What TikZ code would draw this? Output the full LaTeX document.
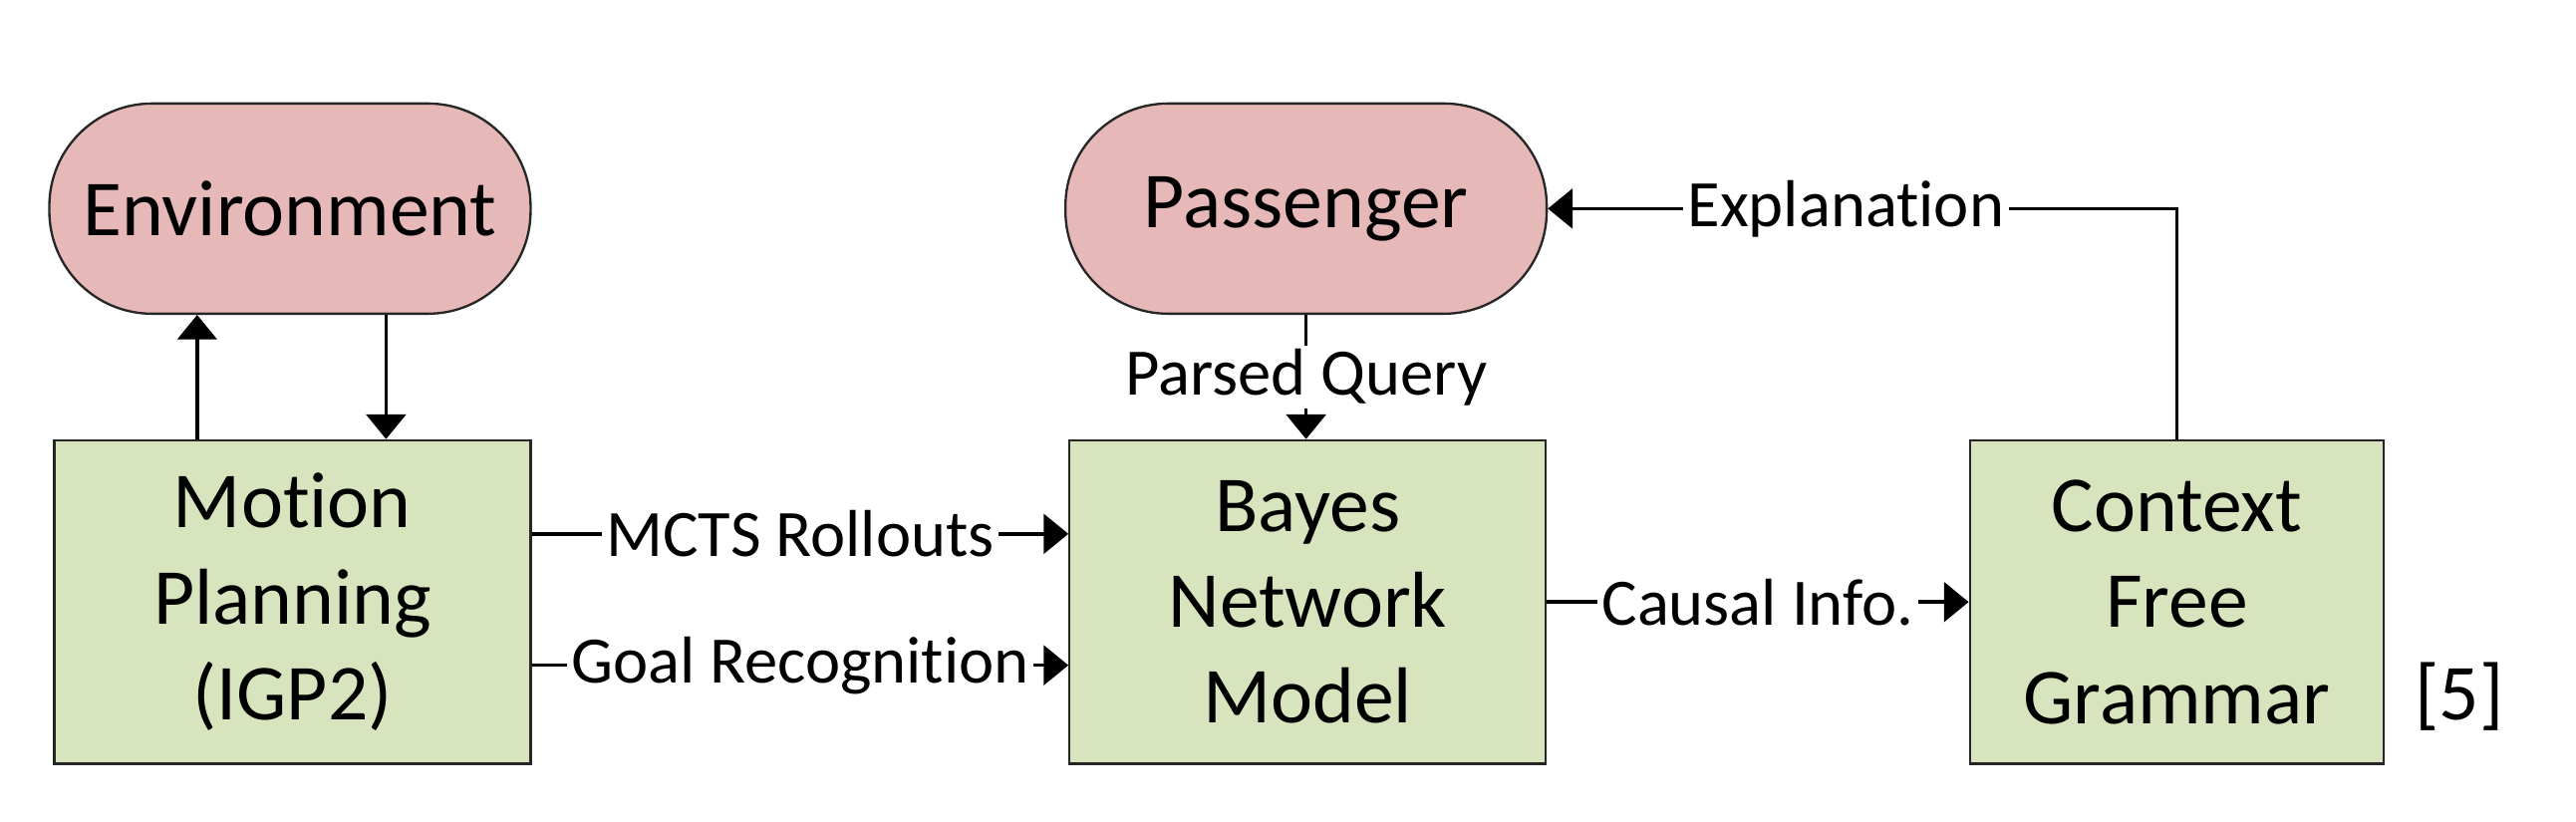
\documentclass[tikz,border=0pt]{standalone}
\usepackage{fontspec}
\setmainfont[Ligatures={NoCommon,NoDiscretionary}]{Carlito}
\usetikzlibrary{arrows.meta,calc}
\definecolor{pinkfill}{HTML}{E6B9B8}
\definecolor{greenfill}{HTML}{D7E4BD}
\definecolor{edgecol}{HTML}{262626}
\begin{document}
\begin{tikzpicture}[x=0.02cm,y=-0.02cm,
  bigtext/.style={font=\fontsize{27.5}{33.3}\selectfont},
  oval/.style={draw=edgecol,line width=0.8pt,fill=pinkfill,rounded corners=1.25cm,
    minimum width=5.86cm,minimum height=2.56cm,inner sep=0pt,bigtext},
  boxnode/.style={draw=edgecol,line width=0.8pt,fill=greenfill,
    minimum height=3.94cm,inner sep=0pt,align=center,bigtext},
  lbl/.style={fill=white,inner xsep=1.5pt,inner ysep=1pt,font=\fontsize{23}{27}\selectfont},
  arr/.style={line width=1.2pt,-{Triangle[length=0.3cm,width=0.48cm]}}]
\useasboundingbox (0,0) rectangle (1568,500);
\node[oval] (env) at (176.5,127) {Environment};
\node[oval] (pass) at (795,127) {Passenger};
\node[boxnode,minimum width=5.8cm] (motion) at (178,366.5) {Motion\\Planning\\(IGP2)};
\node[boxnode,minimum width=5.8cm] (bayes) at (796,366.5) {Bayes\\Network\\Model};
\node[boxnode,minimum width=5.04cm] (cfg) at (1325,366.5) {Context\\Free\\Grammar};
\node[bigtext,anchor=center] (ref) at (1497,424) {[5]};
% Motion <-> Environment
\draw[arr] ([xshift=-1.16cm]motion.north) -- ([xshift=-1.16cm]motion.north |- env.south);
\draw[arr] ([xshift=1.14cm]motion.north |- env.south) -- ([xshift=1.14cm]motion.north);
% Passenger -> Bayes
\draw[arr] (pass.south) -- (pass.south |- bayes.north) node[lbl,midway] {Parsed Query};
% Motion -> Bayes
\draw[arr] ([yshift=0.83cm]motion.east) -- ([yshift=0.83cm]motion.east -| bayes.west)
  node[lbl,midway] {MCTS Rollouts};
\draw[arr] ([yshift=-0.77cm]motion.east) -- ([yshift=-0.77cm]motion.east -| bayes.west)
  node[lbl,midway] {Goal Recognition};
% Bayes -> CFG
\draw[arr] (bayes.east) -- (cfg.west) node[lbl,midway] {Causal Info.};
% CFG -> Passenger
\draw[arr] (cfg.north) -- (cfg.north |- pass.east) -- (pass.east)
  node[lbl,pos=0.526] {Explanation};
\end{tikzpicture}
\end{document}
